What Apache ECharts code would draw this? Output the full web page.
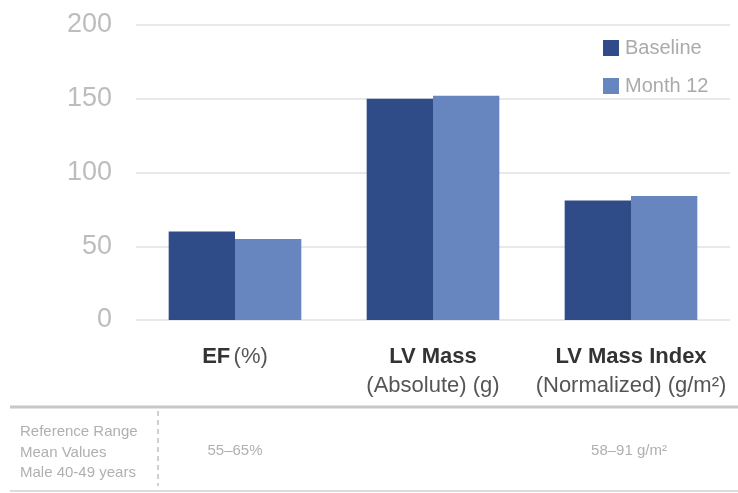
<!DOCTYPE html>
<html>
<head>
<meta charset="utf-8">
<script src="https://cdn.jsdelivr.net/npm/echarts@6/dist/echarts.min.js"></script>
<style>html,body{margin:0;padding:0;background:#fff;}#c{width:738px;height:493px;}</style>
</head>
<body>
<div id="c"></div>
<script>
var categories = ['EF', 'LV Mass', 'LV Mass Index'];
var categoryUnits = ['(%)', '(Absolute) (g)', '(Normalized) (g/m²)'];
var seriesNames = ['Baseline', 'Month 12'];
var baseline = [60, 150, 81];
var month12 = [55, 152, 84];
var yTicks = [0, 50, 100, 150, 200];
var refHeader = ['Reference Range', 'Mean Values', 'Male 40-49 years'];
var refValues = ['55–65%', '', '58–91 g/m²'];

var chart = echarts.init(document.getElementById('c'));
var gridLeft = 136, gridRight = 8;
var plotW = 738 - gridLeft - gridRight;
var catW = plotW / categories.length;
var FONT = '"Liberation Sans", Arial, sans-serif';

var graphics = [
  {type:'line', shape:{x1:10,y1:407,x2:738,y2:407}, style:{stroke:'#c8c8c8', lineWidth:3}},
  {type:'line', shape:{x1:10,y1:491,x2:738,y2:491}, style:{stroke:'#d0d0d0', lineWidth:1.5}},
  {type:'line', shape:{x1:158,y1:411,x2:158,y2:486}, style:{stroke:'#c0c0c0', lineWidth:1.5, lineDash:[5,4]}}
];
refHeader.forEach(function(t, i){
  graphics.push({type:'text', x:20, y:432 + i*20.5, style:{text:t, fill:'#b0b0b0', font:'15px ' + FONT, verticalAlign:'middle'}});
});
refValues.forEach(function(t, i){
  if (!t) return;
  var cx = gridLeft + catW*(i+0.5) - (i===2 ? 2 : 0);
  graphics.push({type:'text', x: cx, y:451, style:{text:t, fill:'#b0b0b0', font:'15px ' + FONT, align:'center', verticalAlign:'middle'}});
});

chart.setOption({
  animation:false,
  backgroundColor:'#fff',
  grid:{left:gridLeft, right:gridRight, top:25, bottom:493-320, containLabel:false},
  legend:{
    data:seriesNames, orient:'vertical', left:598, top:33,
    itemWidth:16, itemHeight:16, itemGap:18, icon:'rect',
    textStyle:{color:'#aaaaaa', fontSize:20, fontFamily:FONT, padding:[0,0,0,1]}
  },
  xAxis:{
    type:'category', data:categories,
    axisLine:{show:false}, axisTick:{show:false},
    axisLabel:{
      margin:22, interval:0,
      formatter:function(v, idx){
        var u = categoryUnits[idx];
        if (idx === 0) return '{b|' + v + '} {n|' + u + '}';
        return '{b|' + v + '}\n{n|' + u + '}';
      },
      rich:{
        b:{fontSize:22, fontWeight:'bold', color:'#333', fontFamily:FONT, lineHeight:29},
        n:{fontSize:22, color:'#555', fontFamily:FONT, lineHeight:29}
      }
    }
  },
  yAxis:{
    type:'value', min:yTicks[0], max:yTicks[yTicks.length-1], interval:50,
    axisLine:{show:false}, axisTick:{show:false},
    axisLabel:{margin:24, color:'#bdbdbd', fontSize:27, fontFamily:FONT},
    splitLine:{lineStyle:{color:'#e2e2e2', width:1.5}}
  },
  series:[
    {name:seriesNames[0], type:'bar', data:baseline, barGap:'0%', barCategoryGap:'33%', itemStyle:{color:'#304c88'}},
    {name:seriesNames[1], type:'bar', data:month12, itemStyle:{color:'#6786bf'}}
  ],
  graphic:graphics
});
</script>
</body>
</html>
